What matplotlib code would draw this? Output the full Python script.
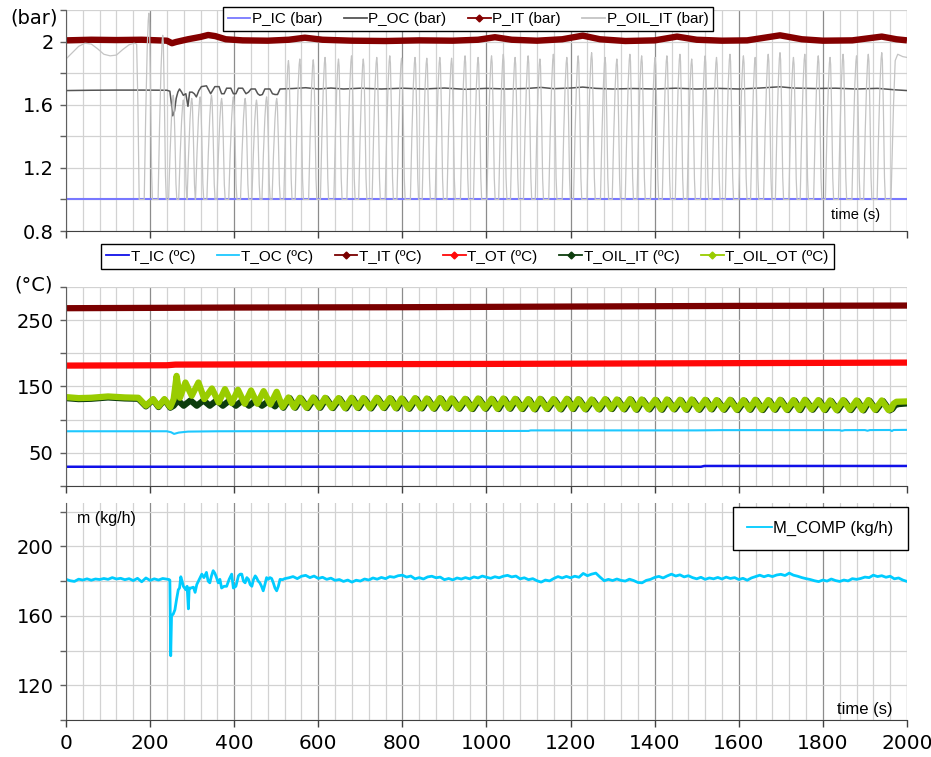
import matplotlib
matplotlib.use('Agg')
import matplotlib.pyplot as plt
from matplotlib.lines import Line2D
from matplotlib.ticker import MultipleLocator, FixedLocator, FormatStrFormatter

# ---------------- data ----------------
# top panel, pressures (bar): (time s, value) turning points
p_ic_pts = [(0, 1.0), (2000, 1.0)]

p_oc_pts = [(0, 1.690), (60, 1.692), (120, 1.693), (180, 1.693), (240, 1.692), (247, 1.686),
            (251, 1.60), (254, 1.53), (258, 1.56), (262, 1.64), (266, 1.68), (270, 1.70),
            (275, 1.68), (279, 1.66), (285, 1.67), (290, 1.59), (294, 1.68), (300, 1.68),
            (305, 1.67), (310, 1.65), (316, 1.69), (322, 1.715), (334, 1.72), (340, 1.69),
            (344, 1.67), (354, 1.715), (364, 1.715), (370, 1.67), (376, 1.67), (382, 1.705),
            (392, 1.705), (398, 1.67), (404, 1.67), (410, 1.705), (420, 1.705), (428, 1.67),
            (434, 1.68), (440, 1.70), (450, 1.70), (456, 1.67), (461, 1.66), (467, 1.665),
            (473, 1.70), (485, 1.70), (491, 1.67), (497, 1.665), (503, 1.665), (509, 1.70),
            (540, 1.703), (570, 1.708), (600, 1.700), (630, 1.706), (660, 1.700), (700, 1.705),
            (750, 1.700), (800, 1.705), (850, 1.700), (900, 1.706), (950, 1.698), (1000, 1.704),
            (1050, 1.700), (1100, 1.704), (1130, 1.710), (1160, 1.702), (1200, 1.706),
            (1229, 1.712), (1260, 1.704), (1300, 1.700), (1350, 1.703), (1400, 1.700),
            (1450, 1.705), (1500, 1.700), (1550, 1.704), (1600, 1.700), (1650, 1.706),
            (1698, 1.714), (1730, 1.706), (1780, 1.703), (1830, 1.705), (1880, 1.700),
            (1930, 1.704), (1970, 1.695), (2000, 1.690)]

p_it_pts = [(0, 2.008), (60, 2.012), (120, 2.010), (180, 2.012), (240, 2.006), (252, 1.990),
            (262, 1.998), (290, 2.015), (320, 2.030), (338, 2.042), (355, 2.035), (380, 2.015),
            (420, 2.008), (480, 2.006), (530, 2.012), (568, 2.025), (610, 2.012), (680, 2.006),
            (760, 2.004), (840, 2.008), (920, 2.006), (980, 2.012), (1020, 2.028), (1060, 2.012),
            (1120, 2.006), (1180, 2.015), (1229, 2.038), (1270, 2.015), (1330, 2.004),
            (1400, 2.008), (1453, 2.032), (1500, 2.012), (1560, 2.006), (1620, 2.008),
            (1698, 2.040), (1750, 2.015), (1800, 2.006), (1870, 2.008), (1940, 2.032),
            (1975, 2.015), (2000, 2.008)]

# oil line pressure: smooth start, then one pulse per oil cycle, then a plateau
p_oil_start_pts = [(0, 1.89), (15, 1.93), (30, 1.97), (45, 1.99), (60, 1.985), (75, 1.955),
                   (90, 1.92), (105, 1.91), (120, 1.915), (135, 1.95), (150, 1.98), (162, 1.99),
                   (168, 1.985), (171, 1.6), (174, 1.0)]
startup_pulse_t = [197, 230, 255, 279, 299, 319, 346, 370, 398, 426, 453, 477, 501]
startup_pulse_p = [2.18, 2.04, 1.66, 1.63, 1.64, 1.65, 1.66, 1.64, 1.65, 1.64, 1.63, 1.65, 1.64]
cycle_t = [529, 556, 588, 616, 648, 679, 707, 739, 770, 798, 830, 858, 889, 917, 949, 980,
           1012, 1040, 1068, 1099, 1127, 1159, 1191, 1218, 1250, 1282, 1310, 1341, 1369, 1401,
           1429, 1460, 1488, 1520, 1547, 1579, 1611, 1639, 1670, 1698, 1730, 1757, 1789, 1817,
           1848, 1880, 1908, 1940]
cycle_p = [1.88, 1.89, 1.885, 1.90, 1.89, 1.91, 1.89, 1.90, 1.91, 1.895, 1.90, 1.895, 1.90, 1.895,
           1.91, 1.90, 1.91, 1.92, 1.90, 1.91, 1.89, 1.92, 1.90, 1.91, 1.93, 1.90, 1.89, 1.92,
           1.91, 1.90, 1.91, 1.92, 1.89, 1.91, 1.90, 1.92, 1.91, 1.90, 1.92, 1.93, 1.90, 1.92,
           1.91, 1.90, 1.92, 1.91, 1.92, 1.93]
p_oil_end_pts = [(1962, 1.0), (1968, 1.6), (1972, 1.88), (1978, 1.92), (1990, 1.905), (2000, 1.90)]

# middle panel, temperatures (ºC)
t_ic_pts = [(0, 29), (1510, 29), (1518, 30.2), (2000, 30.2)]
t_oc_pts = [(0, 82.5), (240, 82.5), (250, 81), (257, 78.5), (268, 80.5), (290, 82), (360, 82.5),
            (620, 82.8), (1100, 83), (1105, 83.8), (1500, 83.8), (1560, 84.2), (1840, 84.2),
            (1845, 83.2), (1852, 84.2), (1900, 84.3), (1906, 83.3), (1912, 84.3), (1960, 84.4),
            (1964, 82.8), (1968, 84.4), (2000, 84.6)]
t_it_pts = [(0, 268), (400, 269), (800, 269.5), (1200, 270.5), (1600, 271.5), (2000, 272)]
t_ot_pts = [(0, 181.5), (240, 182), (260, 183), (600, 183.5), (1000, 184), (1500, 185), (2000, 186)]

t_oil_ot_start = [(0, 134), (30, 132.5), (60, 133), (100, 135), (140, 133.5), (172, 133),
                  (190, 121), (207, 131), (220, 120), (234, 131), (248, 119), (256, 131),
                  (263, 166), (271, 133), (284, 156), (299, 136), (315, 156), (329, 131),
                  (347, 147), (363, 126), (378, 146), (394, 125), (409, 145), (425, 124),
                  (440, 144), (455, 124), (470, 143), (486, 123), (501, 142), (515, 119)]
t_oil_it_start = [(0, 132.5), (30, 131), (60, 131.5), (100, 133.5), (140, 132), (172, 131.5),
                  (190, 120), (207, 130), (220, 119), (234, 130), (248, 118), (256, 121),
                  (266, 129), (280, 121), (296, 129), (311, 121), (327, 129), (342, 121),
                  (358, 129), (373, 121), (389, 129), (404, 121), (420, 129), (435, 121),
                  (451, 129), (466, 121), (482, 128), (497, 120), (508, 128), (517, 118)]
# per oil cycle (same cycle_t): peak and following trough
ot_hi = [133.5, 133, 133.5, 133, 132.5, 133, 132.5, 133,
         132.5, 132, 132.5, 132, 132.5, 132, 131.5, 132,
         131.5, 132, 131.5, 131, 131.5, 131, 131.5, 131,
         130.5, 131, 130.5, 131, 130.5, 130, 130.5, 130,
         130.5, 130, 129.5, 130, 129.5, 130, 129.5, 130,
         129.5, 130, 129.5, 129, 129.5, 129, 129.5, 129]
ot_lo = [118.5, 118, 118.5, 118, 117.5, 118, 117.5, 118,
         117.5, 117, 117.5, 117, 117.5, 117, 116.5, 117,
         116.5, 117, 116.5, 116, 116.5, 116, 116.5, 116,
         116, 116.5, 116, 115.5, 116, 115.5, 116, 115.5,
         115.5, 116, 115.5, 115, 115.5, 115, 115.5, 115,
         115, 115.5, 115, 114.5, 115, 114.5, 115, 114.5]
it_hi = [132.5, 132, 132.5, 132, 131.5, 132, 131.5, 132,
         131.5, 131, 131.5, 131, 131.5, 131, 130.5, 131,
         130.5, 131, 130.5, 130, 130.5, 130, 130.5, 130,
         129.5, 130, 129.5, 130, 129.5, 129, 129.5, 129,
         129.5, 129, 128.5, 129, 128.5, 129, 128.5, 129,
         128.5, 129, 128.5, 128, 128.5, 128, 128.5, 128]
it_lo = [118, 117.5, 118, 117.5, 117, 117.5, 117, 117.5,
         117, 116.5, 117, 116.5, 117, 116.5, 116, 116.5,
         116, 116.5, 116, 115.5, 116, 115.5, 116, 115.5,
         115.5, 116, 115.5, 115, 115.5, 115, 115.5, 115,
         115, 115.5, 115, 114.5, 115, 114.5, 115, 114.5,
         114.5, 115, 114.5, 114, 114.5, 114, 114.5, 114]
t_oil_ot_end = [(1962, 116), (1968, 124), (1975, 127), (2000, 127.5)]
t_oil_it_end = [(1965, 116), (1972, 122), (1980, 123.5), (2000, 124.5)]

# bottom panel, compressor mass flow (kg/h)
m_comp_pts = [
    (0, 181.0), (10, 180.2), (20, 179.8), (30, 181.1), (40, 180.6), (50, 181.3), (60, 180.5),
    (70, 181.2), (80, 180.9), (90, 181.5), (100, 181.0), (110, 182.0), (120, 181.2),
    (130, 181.6), (140, 180.8), (150, 181.4), (160, 180.3), (170, 181.6), (180, 179.6),
    (190, 181.8), (200, 180.4), (210, 181.3), (220, 180.6), (230, 181.5), (240, 181.1),
    (245, 180.9), (247, 180.5), (249, 137.0), (251, 160), (255, 161), (259, 163.5),
    (263, 169.6), (267, 175), (270, 176), (273, 182.5), (276, 180), (279, 177), (285, 175),
    (288, 177), (291, 164), (293, 176), (297, 176), (303, 176.5), (307, 173.5), (311, 178),
    (317, 181), (323, 184), (328, 182), (334, 185), (338, 180), (342, 179), (346, 183),
    (350, 186), (354, 184.5), (358, 182), (362, 179), (366, 181), (370, 176), (376, 177),
    (382, 177), (388, 181), (394, 184), (398, 176), (404, 177), (410, 183), (414, 184),
    (418, 184), (422, 180), (426, 179), (430, 182), (434, 181), (438, 178), (442, 177),
    (446, 181), (450, 183), (453, 182), (457, 180), (461, 179), (465, 177), (469, 174.4),
    (473, 178), (477, 182), (481, 181), (485, 182), (489, 181.5), (493, 179), (497, 176),
    (501, 174.4), (505, 177), (509, 181), (515, 180.8), (520, 181.4),
    (530, 181.9), (540, 182.6), (550, 181.4), (560, 182.8), (570, 183.3), (580, 182.0),
    (590, 182.9), (600, 181.5), (610, 182.2), (620, 181.0), (630, 181.7), (640, 180.4),
    (650, 180.9), (660, 179.8), (670, 180.6), (680, 179.4), (690, 180.5), (700, 180.0),
    (710, 181.2), (720, 180.6), (730, 181.8), (740, 181.1), (750, 182.1), (760, 181.4),
    (770, 182.6), (780, 182.2), (790, 183.1), (800, 183.4), (810, 182.3), (820, 182.9),
    (830, 181.3), (840, 182.0), (850, 181.2), (860, 182.4), (870, 182.8), (880, 181.9),
    (890, 182.3), (900, 180.8), (910, 181.5), (920, 180.7), (930, 181.8), (940, 181.2),
    (950, 182.0), (960, 181.3), (970, 182.4), (980, 181.8), (990, 182.9), (1000, 182.2),
    (1010, 181.6), (1020, 182.5), (1030, 181.9), (1040, 182.8), (1050, 183.3), (1060, 182.4),
    (1070, 182.9), (1080, 181.3), (1090, 181.9), (1100, 180.8), (1110, 181.4), (1120, 180.2),
    (1130, 179.4), (1140, 180.6), (1150, 180.1), (1160, 181.5), (1170, 182.6), (1180, 181.8),
    (1190, 182.7), (1200, 181.9), (1210, 182.8), (1220, 182.2), (1230, 184.4), (1240, 183.1),
    (1250, 184.0), (1260, 184.6), (1270, 182.3), (1280, 180.2), (1290, 181.0), (1300, 180.3),
    (1310, 181.2), (1320, 180.4), (1330, 180.0), (1340, 181.1), (1350, 180.3), (1360, 179.2),
    (1370, 179.0), (1380, 180.4), (1390, 181.0), (1400, 182.1), (1410, 182.7), (1420, 181.8),
    (1430, 183.0), (1440, 184.0), (1450, 182.9), (1460, 183.6), (1470, 182.4), (1480, 183.1),
    (1490, 182.0), (1500, 181.3), (1510, 182.2), (1520, 181.0), (1530, 181.8), (1540, 181.3),
    (1550, 182.1), (1560, 181.2), (1570, 182.3), (1580, 181.5), (1590, 182.0), (1600, 180.9),
    (1610, 181.6), (1620, 180.5), (1630, 181.8), (1640, 182.6), (1650, 183.4), (1660, 182.5),
    (1670, 183.3), (1680, 182.6), (1690, 183.5), (1700, 183.9), (1710, 183.2), (1720, 184.6),
    (1730, 183.4), (1740, 182.8), (1750, 182.0), (1760, 181.4), (1770, 180.9), (1780, 180.2),
    (1790, 179.7), (1800, 180.6), (1810, 180.0), (1820, 181.2), (1830, 180.3), (1840, 179.8),
    (1850, 180.6), (1860, 180.1), (1870, 181.4), (1880, 181.0), (1890, 181.5), (1900, 182.3),
    (1910, 182.0), (1920, 183.4), (1930, 182.6), (1940, 183.1), (1950, 182.2), (1960, 182.8),
    (1970, 181.3), (1980, 181.8), (1990, 180.6), (2000, 179.8)]

# ---------------- helpers ----------------
# shape of one oil pulse (time offset, fraction of peak height above the base)
PULSE_DT = [-11, -7.5, -4, -1.5, 0, 1.5, 4, 6.5, 8.5]
PULSE_FR = [0, 0.45, 0.8, 0.96, 1, 0.95, 0.6, 0.15, 0]


def split(pts):
    return [p[0] for p in pts], [p[1] for p in pts]


def pulses(times, peaks, base=1.0):
    xs, ys = [], []
    for t, p in zip(times, peaks):
        for dt, fr in zip(PULSE_DT, PULSE_FR):
            xs.append(t + dt)
            ys.append(base + fr * (p - base))
    return xs, ys


def zigzag(times, hi, lo, lag=0):
    xs, ys = [], []
    for i, (t, h, l) in enumerate(zip(times, hi, lo)):
        nxt = times[i + 1] if i + 1 < len(times) else t + 32
        xs += [t + lag, (t + nxt) / 2 + lag]
        ys += [h, l]
    return xs, ys


def style(ax, ylim, major, minor, labels_x):
    ax.set_xlim(0, 2000)
    ax.set_ylim(*ylim)
    ax.xaxis.set_major_locator(MultipleLocator(200))
    ax.xaxis.set_minor_locator(MultipleLocator(40))
    ax.yaxis.set_major_locator(FixedLocator(major))
    ax.yaxis.set_minor_locator(FixedLocator(minor))
    ax.yaxis.set_major_formatter(FormatStrFormatter('%g'))
    ax.grid(which='minor', axis='x', color='#d2d2d2', lw=0.9)
    ax.grid(which='major', axis='x', color='#8c8c8c', lw=0.9)
    ax.grid(which='both', axis='y', color='#d2d2d2', lw=0.9)
    ax.set_axisbelow(True)
    for s in ('top', 'right'):
        ax.spines[s].set_visible(False)
    ax.spines['left'].set_color('#606060')
    ax.spines['bottom'].set_color('#404040')
    ax.tick_params(axis='y', which='both', direction='out', length=4, width=1,
                   color='#606060', labelsize=14, pad=5)
    ax.tick_params(axis='x', which='major', direction='out', length=5, width=1,
                   color='#404040', labelsize=14.5, pad=5, labelbottom=labels_x)
    ax.tick_params(axis='x', which='minor', length=0)


LEG_FONT = {'family': 'Liberation Sans', 'size': 11}

fig = plt.figure(figsize=(9.31, 7.57), dpi=100)
ax1 = fig.add_axes([0.0709, 0.6948, 0.9033, 0.2919])
ax2 = fig.add_axes([0.0709, 0.3580, 0.9033, 0.2629])
ax3 = fig.add_axes([0.0709, 0.0489, 0.9033, 0.2867])

# ---------------- top panel ----------------
style(ax1, (0.8, 2.2), [0.8, 1.2, 1.6, 2.0], [1.0, 1.4, 1.8, 2.2], False)
ax1.plot(*split(p_ic_pts), color='#7878ff', lw=1.5)
ax1.plot(*split(p_oc_pts), color='#555555', lw=1.1)
ax1.plot(*split(p_it_pts), color='#840000', lw=4.6, solid_capstyle='butt')
px, py = split(p_oil_start_pts)
sx, sy = pulses(startup_pulse_t + cycle_t, startup_pulse_p + cycle_p)
ex, ey = split(p_oil_end_pts)
ax1.plot(px + sx + ex, py + sy + ey, color='#c4c4c4', lw=0.9)
ax1.text(0.968, 0.072, 'time (s)', transform=ax1.transAxes, ha='right', va='center',
         family='Liberation Sans', fontsize=10.5)

# ---------------- middle panel ----------------
style(ax2, (0, 300), [50, 150, 250], [0, 100, 200, 300], False)
ax2.plot(*split(t_ic_pts), color='#1010e8', lw=1.8)
ax2.plot(*split(t_oc_pts), color='#1ec8ff', lw=1.5)
ax2.plot(*split(t_it_pts), color='#7a0000', lw=4.5)
ax2.plot(*split(t_ot_pts), color='#ff0808', lw=4.5)
ix, iy = split(t_oil_it_start)
zx, zy = zigzag(cycle_t, it_hi, it_lo, lag=3)
jx, jy = split(t_oil_it_end)
ax2.plot(ix + zx + jx, iy + zy + jy, color='#0d3d0d', lw=4.5, solid_joinstyle='round')
ox, oy = split(t_oil_ot_start)
zx, zy = zigzag(cycle_t, ot_hi, ot_lo)
kx, ky = split(t_oil_ot_end)
ax2.plot(ox + zx + kx, oy + zy + ky, color='#99cc00', lw=4.5, solid_joinstyle='round')

# ---------------- bottom panel ----------------
style(ax3, (100, 225), [120, 160, 200], [100, 140, 180, 220], True)
ax3.plot(*split(m_comp_pts), color='#00ccff', lw=2.0)
ax3.text(0.983, 0.046, 'time (s)', transform=ax3.transAxes, ha='right', va='center',
         family='Liberation Sans', fontsize=12)
ax3.text(0.013, 0.93, 'm (kg/h)', transform=ax3.transAxes, ha='left', va='center',
         family='Liberation Sans', fontsize=11.5)

# axis units
fig.text(34 / 931, 1 - 18 / 757, '(bar)', ha='center', va='center', fontsize=14)
fig.text(34 / 931, 1 - 285 / 757, '(°C)', ha='center', va='center', fontsize=14)

# ---------------- legends ----------------
def leg_line(color, marker=None):
    return Line2D([], [], color=color, lw=1.3, marker=marker, markersize=3.5)


leg_kw = dict(frameon=True, fancybox=False, edgecolor='black', framealpha=1,
              handlelength=1.5, handletextpad=0.1, prop=LEG_FONT)

top_h = [leg_line('#7878ff'), leg_line('#555555'), leg_line('#840000', 'D'), leg_line('#c4c4c4')]
top_l = ['P_IC (bar)', 'P_OC (bar)', 'P_IT (bar)', 'P_OIL_IT (bar)']
lg = fig.legend(top_h, top_l, loc='center', bbox_to_anchor=(0.5027, 0.975), ncol=4,
                columnspacing=1.4, borderpad=0.3, **leg_kw)
lg.get_frame().set_linewidth(1.0)

mid_h = [leg_line('#1010e8'), leg_line('#1ec8ff'), leg_line('#7a0000', 'D'),
         leg_line('#ff0808', 'D'), leg_line('#0d3d0d', 'D'), leg_line('#99cc00', 'D')]
mid_l = ['T_IC (ºC)', 'T_OC (ºC)', 'T_IT (ºC)', 'T_OT (ºC)', 'T_OIL_IT (ºC)', 'T_OIL_OT (ºC)']
lg = fig.legend(mid_h, mid_l, loc='center', bbox_to_anchor=(0.502, 0.661), ncol=6,
                columnspacing=1.4, borderpad=0.35, **leg_kw)
lg.get_frame().set_linewidth(1.0)

bot_kw = dict(leg_kw)
bot_kw['prop'] = {'family': 'Liberation Sans', 'size': 12}
lg = fig.legend([leg_line('#00ccff')], ['M_COMP (kg/h)'], loc='center',
                bbox_to_anchor=(0.881, 0.302), borderpad=0.85, **bot_kw)
lg.get_frame().set_linewidth(1.0)

fig.savefig('out.png', dpi=100)
